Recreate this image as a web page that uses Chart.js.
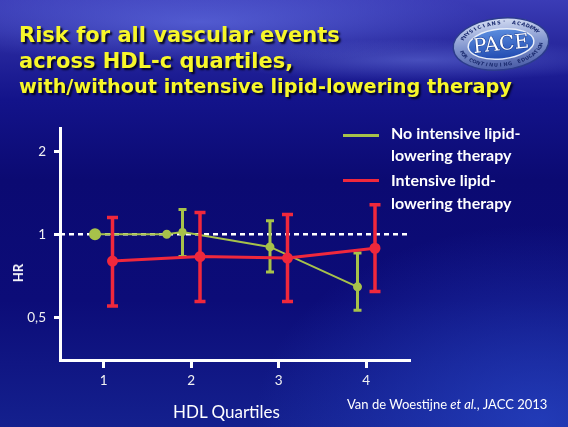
<!DOCTYPE html>
<html>
<head>
<meta charset="utf-8">
<script src="https://cdn.jsdelivr.net/npm/chart.js@4.4.1/dist/chart.umd.min.js"></script>
<style>
  html, body { margin: 0; padding: 0; }
  body {
    width: 568px; height: 427px; overflow: hidden; position: relative;
    background:
      radial-gradient(ellipse 420px 60px at 200px 22px, rgba(120,140,255,0.45), rgba(120,140,255,0) 70%),
      radial-gradient(ellipse 300px 30px at 420px 60px, rgba(140,160,255,0.35), rgba(140,160,255,0) 70%),
      radial-gradient(ellipse 380px 260px at 540px 420px, rgba(40,70,200,0.7), rgba(40,70,200,0) 75%),
      linear-gradient(180deg, #3b3cb6 0px, #2a2aa0 40px, #13138a 100px, #0b0a72 180px, #0c0c78 300px, #14208e 427px);
    font-family: Lato, "Open Sans", sans-serif;
  }
  canvas#c { position: absolute; left: 0; top: 0; }
  .title {
    position: absolute; left: 19px; color: #f7f72a; font-family: "DejaVu Sans", Verdana, sans-serif;
    font-weight: bold; white-space: nowrap;
    text-shadow: 2px 2px 2px rgba(0,0,20,0.9);
  }
  .leg { position: absolute; left: 391px; color: #fff; font-weight: bold; font-size: 16px; font-family: Lato, sans-serif; white-space: nowrap; }
  .swatch { position: absolute; left: 343px; width: 36px; height: 3px; }
  .note { position: absolute; color: #fff; white-space: nowrap; font-family: Lato, sans-serif; }
  .ytitle {
    position: absolute; left: 18px; top: 273px; color: #fff; font: bold 13px Lato, sans-serif;
    transform: translate(-50%, -50%) rotate(-90deg); white-space: nowrap;
  }
</style>
</head>
<body>
<canvas id="c" width="568" height="427"></canvas>

<div class="title" style="top:23px;font-size:21px;">Risk for all vascular events</div>
<div class="title" style="top:49px;font-size:21px;">across HDL-c quartiles,</div>
<div class="title" style="top:75px;font-size:19.3px;">with/without intensive lipid-lowering therapy</div>

<div class="swatch" style="top:134px;background:#a7c24a;"></div>
<div class="leg" style="top:123px;">No intensive lipid-</div>
<div class="leg" style="top:145px;">lowering therapy</div>
<div class="swatch" style="top:179px;background:#f0283c;"></div>
<div class="leg" style="top:170px;">Intensive lipid-</div>
<div class="leg" style="top:193px;">lowering therapy</div>

<div class="ytitle">HR</div>
<div class="note" style="left:173px;top:401px;font-size:17px;">HDL Quartiles</div>
<div class="note" style="left:347px;top:396px;font-size:13px;">Van de Woestijne <i>et al.</i>, JACC 2013</div>

<script>
// x positions are the quartile index, shifted a little so the two groups don't overlap
const quartiles = [1, 2, 3, 4];

const noIntX  = [0.9, 1.72, 1.9, 2.9, 3.9];
const noIntHR = [1.0, 1.0, 1.02, 0.90, 0.645];
const noIntLo = [null, null, 0.83, 0.73, 0.53];
const noIntHi = [null, null, 1.23, 1.12, 0.855];

const intX  = [1.1, 2.1, 3.1, 4.1];
const intHR = [0.80, 0.83, 0.82, 0.89];
const intLo = [0.55, 0.57, 0.57, 0.62];
const intHi = [1.15, 1.20, 1.18, 1.28];

const yTickValues = [0.5, 1, 2];
const yTickLabels = ['0,5', '1', '2'];
const refHR = 1;

const GREEN = '#a7c24a';
const RED = '#f0283c';

function pts(xs, ys) {
  return xs.map((x, i) => ({ x: x, y: ys[i] }));
}

// dashed line at HR = 1
const refLine = {
  id: 'refLine',
  beforeDatasetsDraw(chart) {
    const { ctx, chartArea, scales } = chart;
    const y = scales.y.getPixelForValue(refHR);
    ctx.save();
    ctx.strokeStyle = '#ffffff';
    ctx.lineWidth = 2.5;
    ctx.setLineDash([5, 4]);
    ctx.beginPath();
    ctx.moveTo(chartArea.left, y);
    ctx.lineTo(chartArea.right, y);
    ctx.stroke();
    ctx.restore();
  }
};

// vertical CI bars with caps
const errorBars = {
  id: 'errorBars',
  afterDatasetDraw(chart, args) {
    const ds = chart.data.datasets[args.index];
    if (!ds.lo) return;
    const { ctx, scales } = chart;
    ctx.save();
    ctx.strokeStyle = ds.borderColor;
    ctx.lineWidth = ds.barWidth;
    ctx.lineCap = 'butt';
    ds.data.forEach((p, i) => {
      if (ds.lo[i] == null) return;
      const x = scales.x.getPixelForValue(p.x);
      const y1 = scales.y.getPixelForValue(ds.lo[i]);
      const y2 = scales.y.getPixelForValue(ds.hi[i]);
      const w = ds.capWidth / 2;
      ctx.beginPath();
      ctx.moveTo(x, y1); ctx.lineTo(x, y2);
      ctx.moveTo(x - w, y1); ctx.lineTo(x + w, y1);
      ctx.moveTo(x - w, y2); ctx.lineTo(x + w, y2);
      ctx.stroke();
    });
    ctx.restore();
  }
};

// PACE badge in the top-right corner
const logo = {
  id: 'logo',
  afterDraw(chart) {
    const ctx = chart.ctx;
    const cx = 501, cy = 44;
    ctx.save();
    ctx.translate(cx, cy);
    ctx.rotate(-0.1);
    let g = ctx.createLinearGradient(0, -26, 0, 26);
    g.addColorStop(0, '#d3dcf2');
    g.addColorStop(0.5, '#8296cf');
    g.addColorStop(1, '#4a5ca6');
    ctx.fillStyle = g;
    ctx.beginPath(); ctx.ellipse(0, 0, 48, 26, 0, 0, Math.PI * 2); ctx.fill();
    ctx.strokeStyle = '#2c3c8c'; ctx.lineWidth = 1.5; ctx.stroke();
    g = ctx.createLinearGradient(0, -16, 0, 16);
    g.addColorStop(0, '#5d8fe0');
    g.addColorStop(1, '#1f49b0');
    ctx.fillStyle = g;
    ctx.beginPath(); ctx.ellipse(0, 0, 33, 15, 0, 0, Math.PI * 2); ctx.fill();
    ctx.strokeStyle = '#e8eefa'; ctx.lineWidth = 1.5; ctx.stroke();
    ctx.fillStyle = '#ffffff';
    ctx.font = '20px "DejaVu Serif", "Liberation Serif", serif';
    ctx.textAlign = 'center'; ctx.textBaseline = 'middle';
    ctx.strokeStyle = '#1a3a90'; ctx.lineWidth = 1;
    ctx.strokeText('PACE', 0, 1);
    ctx.fillText('PACE', 0, 1);
    // ring lettering
    ctx.fillStyle = '#1c2c70';
    ctx.font = 'bold 5px "DejaVu Sans", sans-serif';
    const ringText = (txt, a0, a1, top) => {
      const n = txt.length;
      for (let i = 0; i < n; i++) {
        const a = a0 + (a1 - a0) * (i + 0.5) / n;
        const x = 41 * Math.cos(a), y = 21 * Math.sin(a);
        ctx.save();
        ctx.translate(x, y);
        ctx.rotate(top ? a + Math.PI / 2 : a - Math.PI / 2);
        ctx.fillText(txt[i], 0, 0);
        ctx.restore();
      }
    };
    ringText("PHYSICIANS' ACADEMY", Math.PI * 1.12, Math.PI * 1.88, true);
    ringText('NOITACUDE GNIUNITNOC ROF', Math.PI * 0.05, Math.PI * 0.95, false);
    ctx.restore();
  }
};

new Chart(document.getElementById('c'), {
  type: 'scatter',
  data: {
    datasets: [
      {
        label: 'Intensive lipid-lowering therapy',
        data: pts(intX, intHR),
        lo: intLo, hi: intHi,
        showLine: true,
        borderColor: RED,
        backgroundColor: RED,
        borderWidth: 3,
        pointRadius: 4,
        barWidth: 3.5,
        capWidth: 11
      },
      {
        label: 'No intensive lipid-lowering therapy',
        data: pts(noIntX, noIntHR),
        lo: noIntLo, hi: noIntHi,
        showLine: true,
        borderColor: GREEN,
        backgroundColor: GREEN,
        borderWidth: 2,
        pointRadius: [5, 3.5, 3, 3.5, 3.5],
        barWidth: 3,
        capWidth: 8
      }
    ]
  },
  options: {
    responsive: false,
    animation: false,
    layout: { padding: { left: 0, top: 128, right: 158, bottom: 27 } },
    plugins: {
      legend: { display: false },
      tooltip: { enabled: false }
    },
    scales: {
      x: {
        type: 'linear',
        min: 0.5, max: 4.5,
        afterFit(scale) { scale.height = 40; },
        afterBuildTicks(scale) { scale.ticks = quartiles.map(v => ({ value: v })); },
        border: { display: true, color: '#ffffff', width: 3 },
        grid: { drawOnChartArea: false, drawTicks: true, tickLength: 8, tickWidth: 3, tickColor: '#ffffff', color: '#ffffff' },
        ticks: { color: '#f2f2f2', padding: 5, font: { family: 'Lato', size: 13.5 } }
      },
      y: {
        type: 'logarithmic',
        min: 0.35, max: 2.43,
        afterFit(scale) { scale.width = 60; },
        afterBuildTicks(scale) { scale.ticks = yTickValues.map(v => ({ value: v })); },
        border: { display: true, color: '#ffffff', width: 3 },
        grid: { drawOnChartArea: false, drawTicks: true, tickLength: 6, tickWidth: 3, tickColor: '#ffffff', color: '#ffffff' },
        ticks: {
          color: '#f2f2f2', padding: 8, font: { family: 'Lato', size: 13.5 },
          callback: (v) => yTickLabels[yTickValues.indexOf(v)]
        }
      }
    }
  },
  plugins: [refLine, errorBars, logo]
});
</script>
</body>
</html>
